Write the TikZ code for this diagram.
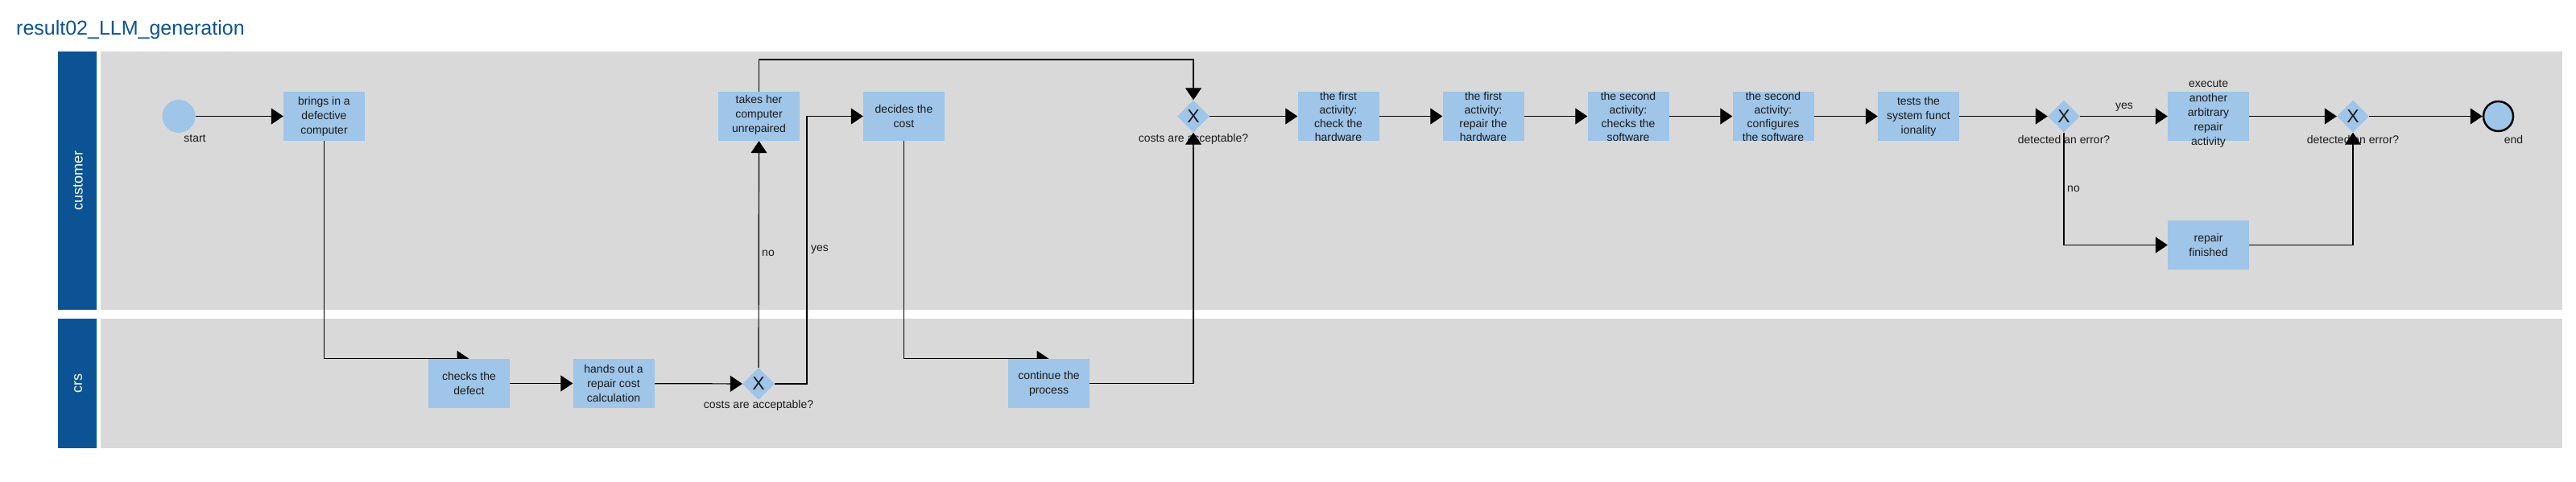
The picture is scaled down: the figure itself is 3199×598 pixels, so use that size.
\documentclass[tikz,border=0pt]{standalone}
\usepackage{fontspec}
\setmainfont{Liberation Sans}
\usetikzlibrary{arrows.meta,shapes.geometric}
\definecolor{hdr}{HTML}{0B5394}
\definecolor{lanebg}{HTML}{D9D9D9}
\definecolor{taskfill}{HTML}{9FC5E8}
\definecolor{ink}{HTML}{1A1A1A}
\pgfdeclarelayer{lanes}
\pgfdeclarelayer{labels}
\pgfdeclarelayer{edges}
\pgfsetlayers{lanes,labels,edges,main}
\tikzset{
  task/.style={rectangle, fill=taskfill, minimum width=101pt, minimum height=61pt, inner sep=0pt},
  tasktext/.style={align=center, font=\fontsize{14}{18}\selectfont, text=ink, inner sep=0pt},
  acttext/.style={tasktext, font=\fontsize{14}{17}\selectfont},
  gw/.style={diamond, fill=taskfill, minimum width=40pt, minimum height=40pt, inner sep=0pt, font=\fontsize{23}{23}\selectfont, text=ink},
  lbl/.style={font=\fontsize{14}{16}\selectfont, text=ink, inner sep=0pt},
  flow/.style={line width=1.2pt, draw=black, -{Triangle[length=15pt,width=20pt]}},
  lanehead/.style={fill=hdr},
  lanebody/.style={fill=lanebg},
  lanetext/.style={rotate=90, text=white, font=\fontsize{18}{18}\selectfont, inner sep=0pt},
  startev/.style={circle, fill=taskfill, minimum size=41pt, inner sep=0pt},
  endevent/.style={circle, fill=taskfill, draw=black, line width=2.5pt, minimum size=37pt, inner sep=0pt}
}
\begin{document}
\begin{tikzpicture}[x=1pt,y=-1pt]
\useasboundingbox (0,0) rectangle (3199,598);
% title
\node[anchor=base west, inner sep=0pt, text=hdr, font=\fontsize{25}{25}\selectfont] (title) at (20,43) {result02\_LLM\_generation};
% lanes
\begin{pgfonlayer}{lanes}
\path[lanehead] (72,64) rectangle (120,385);
\path[lanebody] (125,64) rectangle (3182,385);
\path[lanehead] (72,396) rectangle (120,557);
\path[lanebody] (125,396) rectangle (3182,557);
\end{pgfonlayer}
\node[lanetext] (lcust) at (97,224.5) {customer};
\node[lanetext] (lcrs) at (97,476.5) {crs};
% events
\node[startev] (start) at (222,144.5) {};
\node[endevent] (endev) at (3102.5,144.5) {};
% tasks
\node[task] (brings) at (402.5,144.5) {};
\node[tasktext] (bringsT) at (brings) {brings in a\\defective\\computer};
\node[task] (checks) at (582.5,476.5) {};
\node[tasktext] (checksT) at (checks) {checks the\\defect};
\node[task] (hands) at (762,476.5) {};
\node[tasktext] (handsT) at (hands) {hands out a\\repair cost\\calculation};
\node[task] (takes) at (942.5,144.5) {};
\node[tasktext] (takesT) at ([yshift=1.5pt]takes.center) {takes her\\computer\\unrepaired};
\node[task] (decides) at (1122.5,144.5) {};
\node[tasktext] (decidesT) at (decides) {decides the\\cost};
\node[task] (cont) at (1302.5,476.5) {};
\node[tasktext] (contT) at (cont) {continue the\\process};
\node[task] (a1) at (1662,144.5) {};
\node[acttext] (a1T) at (a1) {the first\\activity:\\check the\\hardware};
\node[task] (a2) at (1842,144.5) {};
\node[acttext] (a2T) at (a2) {the first\\activity:\\repair the\\hardware};
\node[task] (a3) at (2022,144.5) {};
\node[acttext] (a3T) at (a3) {the second\\activity:\\checks the\\software};
\node[task] (a4) at (2202,144.5) {};
\node[acttext] (a4T) at (a4) {the second\\activity:\\configures\\the software};
\node[task] (tests) at (2382.5,144.5) {};
\node[tasktext] (testsT) at (tests) {tests the\\system funct\\ionality};
\node[task] (exec) at (2742.5,144.5) {};
\node[tasktext] (execT) at ([yshift=3pt]exec.center) {execute\\another\\arbitrary\\repair\\activity};
\node[task] (fin) at (2742.5,304.5) {};
\node[tasktext] (finT) at (fin) {repair\\finished};
% gateways
\node[gw] (gw1) at (942,477) {X};
\node[gw] (gw2) at (1482,144.5) {X};
\node[gw] (gw3) at (2563,144.5) {X};
\node[gw] (gw4) at (2922,144.5) {X};
% labels
\begin{pgfonlayer}{labels}
\node[lbl] (startL) at (242,172) {start};
\node[lbl] (endL) at (3121.5,173) {end};
\node[lbl] (gw1L) at (942,504) {costs are acceptable?};
\node[lbl] (gw2L) at (1482,173) {costs are acceptable?};
\node[lbl] (gw3L) at (2563,173) {detected an error?};
\node[lbl] (gw4L) at (2922,173) {detected an error?};
\node[lbl] (no1) at (954,315) {no};
\node[lbl] (yes1) at (1018,310) {yes};
\node[lbl] (yes2) at (2638,133) {yes};
\node[lbl] (no2) at (2575,235) {no};
\end{pgfonlayer}
\coordinate (yesbend) at (1002,477);
\coordinate (topbend) at (1200,74);
% flows
\begin{pgfonlayer}{edges}
\draw[flow] (start) -- (brings);
\draw[flow] (brings.south) |- (checks.north);
\draw[flow] (checks) -- (hands);
\draw[flow] (hands) -- (gw1);
\draw[flow] (gw1.north) -- (takes.south);
\draw[flow] (gw1.east) -- (yesbend) |- (decides.west);
\draw[flow] (takes.north) |- (topbend) -| (gw2.north);
\draw[flow] (decides.south) |- (cont.north);
\draw[flow] (cont.east) -| (gw2.south);
\draw[flow] (gw2) -- (a1);
\draw[flow] (a1) -- (a2);
\draw[flow] (a2) -- (a3);
\draw[flow] (a3) -- (a4);
\draw[flow] (a4) -- (tests);
\draw[flow] (tests) -- (gw3);
\draw[flow] (gw3) -- (exec);
\draw[flow] (gw3.south) |- (fin.west);
\draw[flow] (exec) -- (gw4);
\draw[flow] (fin.east) -| (gw4.south);
\draw[flow] (gw4) -- (endev);
\end{pgfonlayer}
\end{tikzpicture}
\end{document}
